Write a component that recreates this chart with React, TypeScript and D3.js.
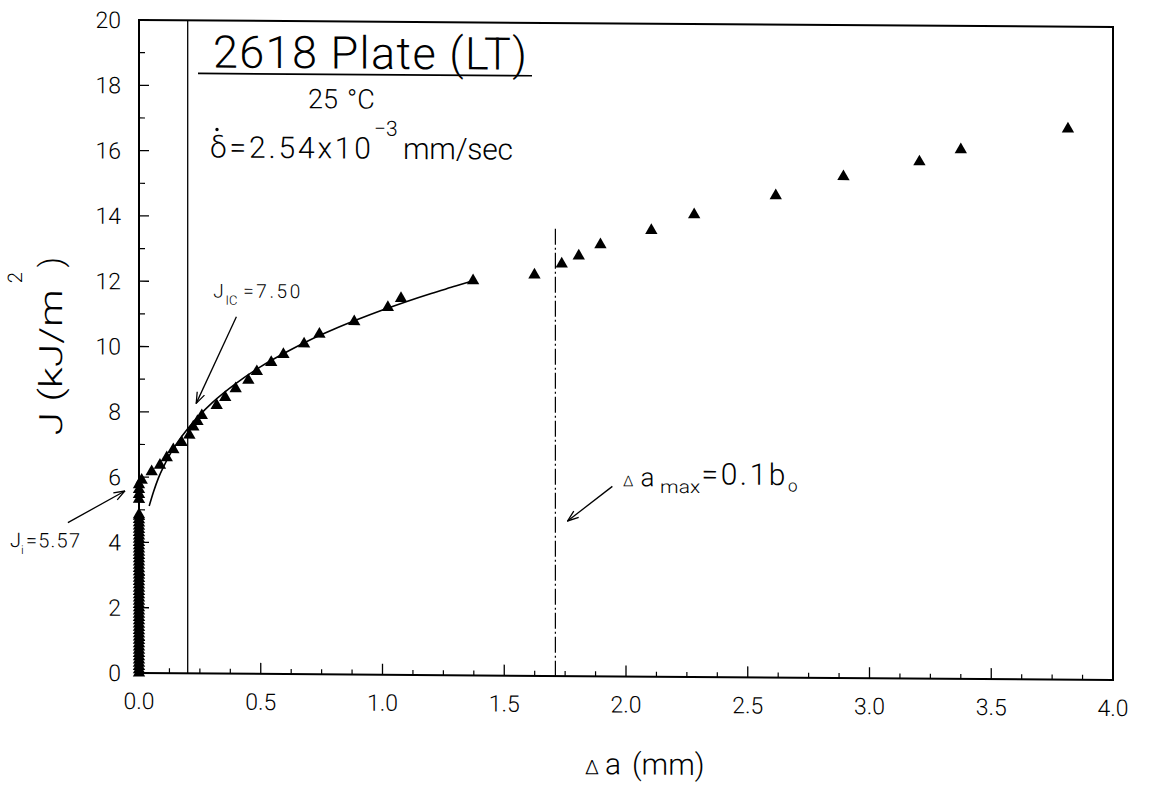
import React from "react";
import * as d3 from "d3";

const W = 1149;
const H = 787;

// Axis ticks and labels
const xMajorTicks = [0, 0.5, 1.0, 1.5, 2.0, 2.5, 3.0, 3.5, 4.0];
const xTickLabels = ["0.0", "0.5", "1.0", "1.5", "2.0", "2.5", "3.0", "3.5", "4.0"];
const yMajorTicks = [0, 2, 4, 6, 8, 10, 12, 14, 16, 18, 20];
const yTickLabels = ["0", "2", "4", "6", "8", "10", "12", "14", "16", "18", "20"];

// Blunting column recorded at Δa = 0 (kJ/m²)
const bluntJ = [0.0, 0.1, 0.2, 0.3, 0.4, 0.5, 0.6, 0.7, 0.8, 0.9, 1.0, 1.1, 1.2, 1.3, 1.4, 1.5,
  1.6, 1.7, 1.8, 1.9, 2.0, 2.1, 2.2, 2.3, 2.4, 2.5, 2.6, 2.7, 2.8, 2.9, 3.0, 3.1, 3.2, 3.3, 3.4,
  3.5, 3.6, 3.7, 3.8, 3.9, 4.0, 4.1, 4.2, 4.3, 4.4, 4.5, 4.6, 4.7, 4.8, 4.85];
// Points around crack initiation, still at Δa = 0
const initA = [0.0, 0.0, 0.0, 0.0];
const initJ = [5.32, 5.47, 5.62, 5.77];
// Crack growth points inside the fitting window
const growA = [0.011, 0.052, 0.086, 0.114, 0.141, 0.175, 0.207, 0.223, 0.24, 0.258, 0.319, 0.354,
  0.397, 0.449, 0.484, 0.543, 0.593, 0.678, 0.741, 0.884, 1.022, 1.076, 1.372];
const growJ = [5.91, 6.17, 6.37, 6.6, 6.85, 7.07, 7.3, 7.55, 7.72, 7.9, 8.21, 8.46,
  8.73, 8.99, 9.26, 9.54, 9.79, 10.12, 10.42, 10.81, 11.25, 11.53, 12.09];
// Points past the fitting window
const tailA = [1.624, 1.736, 1.806, 1.895, 2.104, 2.28, 2.615, 2.893, 3.205, 3.375, 3.815];
const tailJ = [12.28, 12.62, 12.87, 13.22, 13.67, 14.16, 14.76, 15.36, 15.83, 16.21, 16.87];
// Power-law R-curve fit
const fitA = [0.042, 0.06, 0.08, 0.1, 0.13, 0.16, 0.2, 0.25, 0.3, 0.4, 0.5, 0.6, 0.7, 0.8, 0.9,
  1.0, 1.1, 1.2, 1.3, 1.372];
const fitJ = [5.12, 5.56, 5.98, 6.31, 6.74, 7.09, 7.49, 7.92, 8.29, 8.9, 9.41, 9.84, 10.23, 10.57,
  10.88, 11.17, 11.44, 11.69, 11.92, 12.09];

// Reference quantities
const JIC = 7.5;
const offsetA = 0.2;
const JI = 5.57;
const daMax = 1.71;
const daMaxTopJ = 13.7;

const x = d3.scaleLinear().domain([0, 4]).range([139, 1113]);
const y = d3.scaleLinear().domain([0, 20]).range([673, 20]);

const tri = d3.symbol().type(d3.symbolTriangle).size(66)() as string;
const fitLine = d3
  .line<number>()
  .x((_, i) => x(fitA[i]))
  .y((d) => y(d))
  .curve(d3.curveMonotoneX);

const xMinor = d3.range(0, 4.0001, 0.125).filter((v) => Math.abs(v * 2 - Math.round(v * 2)) > 1e-6);
const yMinor = d3.range(1, 20, 2);

const FONT = "Roboto, 'Liberation Sans', Arial, sans-serif";
const skewDeg = (Math.atan(7 / 974) * 180) / Math.PI;

export default function App() {
  const pts: [number, number][] = [
    ...bluntJ.map((j) => [0, j] as [number, number]),
    ...initJ.map((j, i) => [initA[i], j] as [number, number]),
    ...growJ.map((j, i) => [growA[i], j] as [number, number]),
    ...tailJ.map((j, i) => [tailA[i], j] as [number, number]),
  ];
  const x0 = x(0);
  return (
    <svg
      width={W}
      height={H}
      viewBox={`0 0 ${W} ${H}`}
      style={{ position: "absolute", left: 0, top: 0, background: "#fff" }}
      fontFamily={FONT}
      fontWeight={300}
    >
      <defs>
        <marker
          id="openArrow"
          viewBox="0 0 12 10"
          refX="11.5"
          refY="5"
          markerWidth="12"
          markerHeight="10"
          markerUnits="userSpaceOnUse"
          orient="auto"
        >
          <path d="M0.5,1 L11.5,5 L0.5,9" fill="none" stroke="#000" strokeWidth="1.3" />
        </marker>
      </defs>
      <rect width={W} height={H} fill="#fff" />
      <g transform={`translate(${x0},0) skewY(${skewDeg}) translate(${-x0},0)`}>
        {/* frame */}
        <rect
          x={x(0)}
          y={y(20)}
          width={x(4) - x(0)}
          height={y(0) - y(20)}
          fill="none"
          stroke="#000"
          strokeWidth={2}
        />
        {/* y ticks */}
        {yMajorTicks.map((t) => (
          <line key={"ym" + t} x1={x(0)} x2={x(0) + 10} y1={y(t)} y2={y(t)} stroke="#000" strokeWidth={1.3} />
        ))}
        {yMinor.map((t) => (
          <line key={"yn" + t} x1={x(0)} x2={x(0) + 6} y1={y(t)} y2={y(t)} stroke="#000" strokeWidth={1.2} />
        ))}
        {yMajorTicks.map((t, i) => (
          <text key={"yl" + t} x={121} y={y(t)} dy="0.36em" fontSize={23} textAnchor="end">
            {yTickLabels[i]}
          </text>
        ))}
        {/* x ticks */}
        {xMajorTicks.map((t) => (
          <line key={"xm" + t} x1={x(t)} x2={x(t)} y1={y(0)} y2={y(0) - 11} stroke="#000" strokeWidth={1.3} />
        ))}
        {xMinor.map((t) => (
          <line key={"xn" + t} x1={x(t)} x2={x(t)} y1={y(0)} y2={y(0) - 5} stroke="#000" strokeWidth={1.2} />
        ))}
        {xMajorTicks.map((t, i) => (
          <text key={"xl" + t} x={x(t)} y={y(0) + 36} fontSize={23} textAnchor="middle">
            {xTickLabels[i]}
          </text>
        ))}

        {/* 0.2 mm offset line */}
        <line x1={x(offsetA)} x2={x(offsetA)} y1={y(20)} y2={y(0)} stroke="#000" strokeWidth={1.3} />
        {/* Δa max limit */}
        <line
          x1={x(daMax)}
          x2={x(daMax)}
          y1={y(daMaxTopJ)}
          y2={y(0)}
          stroke="#000"
          strokeWidth={1.2}
          strokeDasharray="16,3,2,3"
        />

        {/* power-law fit */}
        <path d={fitLine(fitJ) || ""} fill="none" stroke="#000" strokeWidth={1.6} />

        {/* data */}
        {pts.map(([a, j], i) => (
          <path key={"p" + i} d={tri} transform={`translate(${x(a)},${y(j)})`} fill="#000" />
        ))}

        {/* J_IC annotation */}
        <line
          x1={x(0.4)}
          y1={y(10.93)}
          x2={x(0.235)}
          y2={y(8.27)}
          stroke="#000"
          strokeWidth={1.3}
          markerEnd="url(#openArrow)"
        />
        <text x={x(0.305)} y={y(11.52)} fontSize={19}>J</text>
        <text x={x(0.355)} y={y(11.3)} fontSize={13}>IC</text>
        <text x={x(0.428)} y={y(11.52)} fontSize={19} textLength={57} lengthAdjust="spacing">
          ={JIC.toFixed(2)}
        </text>

        {/* J_i annotation */}
        <line
          x1={x(-0.292)}
          y1={y(4.59)}
          x2={x(-0.058)}
          y2={y(JI)}
          stroke="#000"
          strokeWidth={1.3}
          markerEnd="url(#openArrow)"
        />
        <text x={10} y={y(3.83)} fontSize={20}>J</text>
        <text x={21} y={y(3.62)} fontSize={12}>i</text>
        <text x={26} y={y(3.83)} fontSize={20} textLength={54} lengthAdjust="spacing">
          ={JI.toFixed(2)}
        </text>

        {/* Δa max annotation */}
        <line
          x1={x(1.944)}
          y1={y(5.82)}
          x2={x(1.76)}
          y2={y(4.75)}
          stroke="#000"
          strokeWidth={1.3}
          markerEnd="url(#openArrow)"
        />
        <text x={x(1.988)} y={y(5.83)} fontSize={15}>Δ</text>
        <text x={x(2.06)} y={y(5.83)} fontSize={26}>a</text>
        <text x={x(2.14)} y={y(5.63)} fontSize={18} textLength={40} lengthAdjust="spacingAndGlyphs">max</text>
        <text x={x(2.31)} y={y(5.9)} fontSize={30} textLength={84} lengthAdjust="spacing">=0.1b</text>
        <text x={x(2.665)} y={y(5.7)} fontSize={17}>o</text>

        {/* heading block */}
        <text x={213} y={67} fontSize={45} textLength={314} lengthAdjust="spacing">
          2618 Plate (LT)
        </text>
        <line x1={198} x2={532} y1={73} y2={73} stroke="#000" strokeWidth={1.6} />
        <text x={308} y={107} fontSize={27}>25</text>
        <text x={347} y={107} fontSize={27}>°C</text>
        <circle cx={217} cy={129} r={1.7} fill="#000" />
        <text x={210} y={157} fontSize={30} textLength={161} lengthAdjust="spacing">
          {"\u03B4=2.54x10"}
        </text>
        <text x={374} y={134} fontSize={21}>{"\u22123"}</text>
        <text x={403} y={157} fontSize={30} textLength={110} lengthAdjust="spacing">mm/sec</text>

        {/* axis titles */}
        <text x={585} y={771} fontSize={20}>Δ</text>
        <text x={605} y={771} fontSize={30}>a</text>
        <text x={632} y={771} fontSize={30}>(mm)</text>

        <g transform="translate(62,436) rotate(-90)">
          <text x={0} y={0} fontSize={32} textLength={146} lengthAdjust="spacingAndGlyphs">J (kJ/m</text>
          <text x={152} y={-40} fontSize={20}>2</text>
          <text x={168} y={0} fontSize={32}>)</text>
        </g>
      </g>
    </svg>
  );
}
